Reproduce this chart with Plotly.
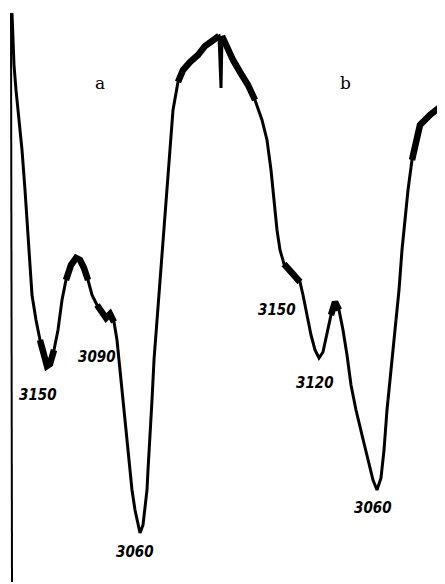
import plotly.graph_objects as go

# Recorder trace: position along chart (x) and pen deflection (y, downward = absorption)
trace_x = [12, 13, 14, 16, 19, 22, 25, 27, 29, 32, 36, 40, 44, 47, 50, 54, 58, 62, 66, 71, 76, 80,
           84, 88, 92, 97, 102, 106, 110, 114, 117, 120, 123, 126, 129, 132, 135, 138, 140, 143,
           145, 147, 148, 150, 152, 154, 157, 160, 163, 166, 169, 173, 178, 183, 190, 198, 205,
           212, 219, 221, 222, 226, 233, 240, 248, 255, 262, 267, 271, 274, 277, 280, 284, 292,
           300, 303, 307, 311, 315, 319, 323, 327, 331, 335, 339, 343, 347, 351, 356, 362, 368,
           373, 377, 381, 384, 387, 391, 395, 399, 402, 405, 408, 412, 416, 420, 430, 438, 445]
trace_y = [13, 40, 65, 90, 120, 150, 190, 220, 260, 295, 320, 340, 355, 366, 364, 350, 330, 300,
           280, 265, 258, 260, 268, 280, 295, 305, 312, 318, 314, 322, 340, 370, 400, 430, 460,
           490, 510, 525, 533, 525, 510, 490, 470, 440, 400, 360, 320, 280, 240, 200, 160, 110,
           82, 70, 62, 55, 46, 40, 36, 88, 36, 45, 60, 72, 85, 100, 120, 140, 170, 200, 230, 250,
           264, 272, 282, 295, 315, 335, 350, 358, 352, 335, 315, 302, 310, 330, 355, 385, 410,
           435, 460, 480, 490, 478, 450, 410, 370, 330, 290, 250, 220, 190, 160, 140, 125, 115,
           108, 103]

# Noisy (broadened) portions of the trace
noise_segments = [
    ([40, 44, 47, 50, 54], [340, 355, 366, 364, 350]),
    ([66, 71, 76, 80, 84, 88], [280, 265, 258, 260, 268, 280]),
    ([97, 102, 106, 110, 114], [305, 312, 318, 314, 322]),
    ([178, 183, 190, 198, 205, 212, 219], [82, 70, 62, 55, 46, 40, 36]),
    ([222, 226, 233, 240, 248, 255], [36, 45, 60, 72, 85, 100]),
    ([284, 292, 300], [264, 272, 282]),
    ([331, 335, 339], [315, 302, 310]),
    ([412, 416, 420, 430, 438, 445], [160, 140, 125, 115, 108, 103]),
]

panel_labels = ["a", "b"]
panel_label_x = [100, 345]
peak_labels = ["3150", "3090", "3060", "3150", "3120", "3060"]
peak_label_x = [38, 97, 135, 277, 315, 373]
peak_label_y = [395, 357, 552, 310, 383, 508]

fig = go.Figure()
fig.add_trace(go.Scatter(x=trace_x, y=trace_y, mode="lines",
                         line=dict(color="black", width=3, shape="linear"),
                         hoverinfo="skip", showlegend=False))
for sx, sy in noise_segments:
    fig.add_trace(go.Scatter(x=sx, y=sy, mode="lines",
                             line=dict(color="black", width=6.5, shape="linear"),
                             hoverinfo="skip", showlegend=False))

fig.add_shape(type="line", x0=11, y0=13, x1=12, y1=582, xref="x", yref="y",
              line=dict(color="black", width=2))

for t, x in zip(panel_labels, panel_label_x):
    fig.add_annotation(x=x, y=83, text=t, showarrow=False,
                       font=dict(family="DejaVu Serif", size=17, color="black"))
for t, x, y in zip(peak_labels, peak_label_x, peak_label_y):
    fig.add_annotation(x=x, y=y, text="<b><i>" + t + "</i></b>", showarrow=False,
                       font=dict(family="DejaVu Sans Condensed, DejaVu Sans", size=15, color="black"))

# page body has an 8px margin; offset axis ranges so the drawing lands on the reference grid
fig.update_layout(
    width=445, height=584,
    margin=dict(l=0, r=0, t=0, b=0),
    paper_bgcolor="white", plot_bgcolor="white",
    xaxis=dict(range=[8, 453], visible=False, fixedrange=True),
    yaxis=dict(range=[592, 8], visible=False, fixedrange=True),
)
fig.write_html("out.html")
